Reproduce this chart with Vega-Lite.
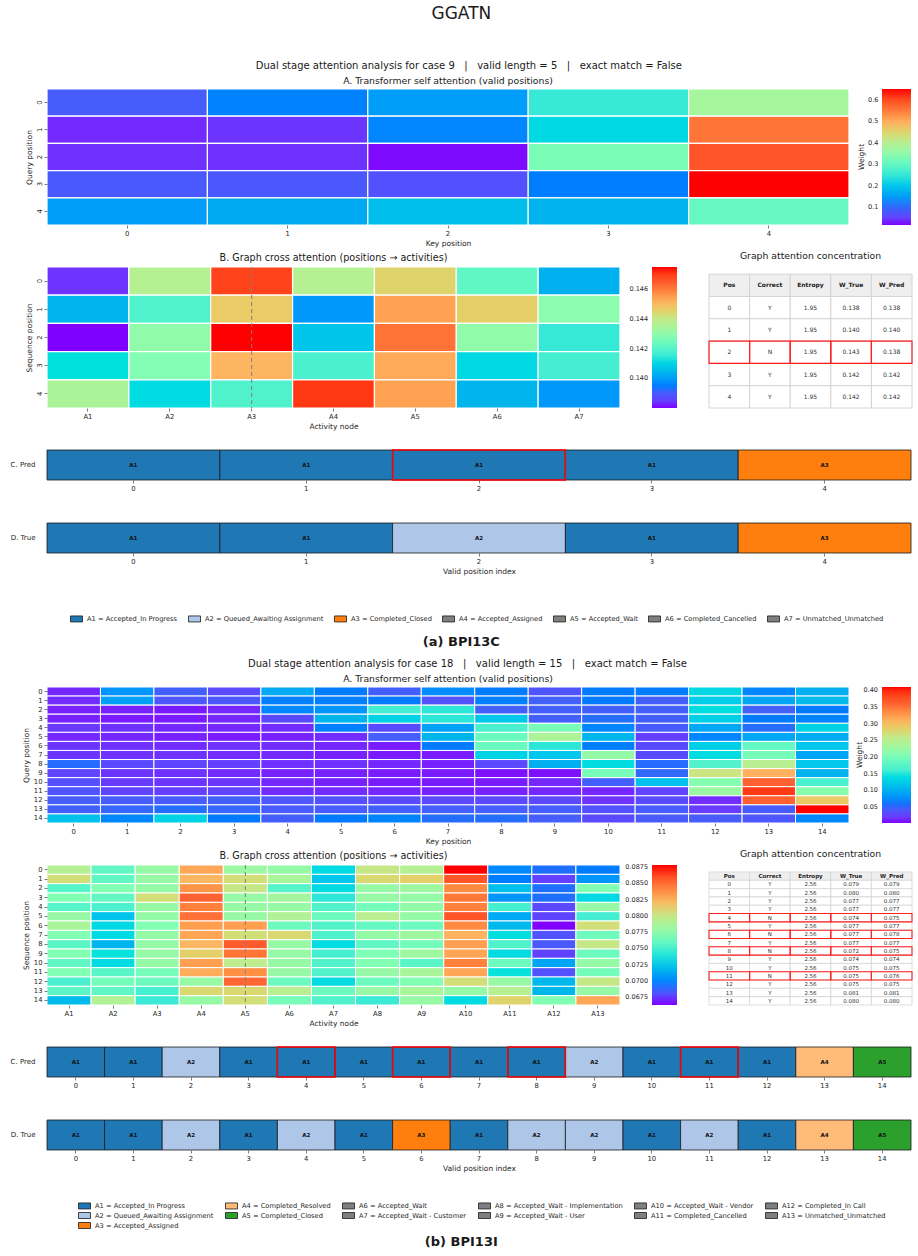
{
"$schema":"https://vega.github.io/schema/vega-lite/v6.json",
"background":"white",
"padding":{"left":10,"top":5,"right":5,"bottom":5},
"title":{"text":"GGATN","fontSize":17,"fontWeight":"normal","anchor":"middle","offset":38},
"config":{
 "font":"DejaVu Sans",
 "view":{"stroke":null},
 "axis":{"labelFontSize":6.8,"titleFontSize":7.5,"titleFontWeight":"normal","tickSize":3,"domain":false,"grid":false,"labelColor":"#262626","titleColor":"#262626","tickColor":"#262626","tickWidth":0.6,"labelPadding":2,"titlePadding":3},
 "legend":{"labelFontSize":6.7,"labelColor":"#262626","titleFontWeight":"normal","titleColor":"#262626"},
 "title":{"fontWeight":"normal","color":"#1a1a1a","subtitleColor":"#1a1a1a"}
},
"spacing":10,
"resolve":{"scale":{"color":"independent","fill":"independent","x":"independent","y":"independent"},"legend":{"color":"independent","fill":"independent"}},
"vconcat":[
{
 "title":{"text":"(a) BPI13C","orient":"bottom","fontSize":13,"fontWeight":"bold","anchor":"middle","offset":12},
 "spacing":18,
 "resolve":{"scale":{"color":"independent","fill":"independent","x":"independent","y":"independent"},"legend":{"color":"independent","fill":"independent"}},
 "vconcat":[
 {
  "title":{"text":"Dual stage attention analysis for case 9\u00a0\u00a0\u00a0|\u00a0\u00a0\u00a0valid length = 5\u00a0\u00a0\u00a0|\u00a0\u00a0\u00a0exact match = False","fontSize":10,"anchor":"middle","offset":6},
  "spacing":3,
  "resolve":{"scale":{"color":"independent","fill":"independent","x":"independent","y":"independent"},"legend":{"color":"independent","fill":"independent"}},
  "vconcat":[
  {
   "width":802,"height":136,
   "title":{"text":"A. Transformer self attention (valid positions)","fontSize":9.3,"frame":"group","anchor":"middle","offset":2},
   "data":{"values":[
    {"q":0,"k":0,"w":0.086},{"q":0,"k":1,"w":0.121},{"q":0,"k":2,"w":0.149},{"q":0,"k":3,"w":0.251},{"q":0,"k":4,"w":0.375},
    {"q":1,"k":0,"w":0.030},{"q":1,"k":1,"w":0.038},{"q":1,"k":2,"w":0.125},{"q":1,"k":3,"w":0.225},{"q":1,"k":4,"w":0.556},
    {"q":2,"k":0,"w":0.035},{"q":2,"k":1,"w":0.035},{"q":2,"k":2,"w":0.018},{"q":2,"k":3,"w":0.327},{"q":2,"k":4,"w":0.590},
    {"q":3,"k":0,"w":0.080},{"q":3,"k":1,"w":0.078},{"q":3,"k":2,"w":0.068},{"q":3,"k":3,"w":0.115},{"q":3,"k":4,"w":0.651},
    {"q":4,"k":0,"w":0.149},{"q":4,"k":1,"w":0.162},{"q":4,"k":2,"w":0.187},{"q":4,"k":3,"w":0.172},{"q":4,"k":4,"w":0.302}
   ]},
   "mark":{"type":"rect","stroke":"white","strokeWidth":1.2},
   "encoding":{
    "x":{"field":"k","type":"ordinal","title":"Key position","scale":{"paddingInner":0,"paddingOuter":0},"axis":{"labelAngle":0}},
    "y":{"field":"q","type":"ordinal","title":"Query position","scale":{"paddingInner":0,"paddingOuter":0},"axis":{"labelAngle":-90}},
    "color":{"field":"w","type":"quantitative","scale":{"domain":[0.016,0.651],"range":["#8000ff","#4062fa","#00b4ec","#40ecd4","#80ffb4","#bfec8e","#ffb462","#ff6232","#ff0000"]},
     "legend":{"orient":"none","legendX":811,"legendY":0,"direction":"vertical","gradientLength":136,"gradientThickness":29,"title":"Weight","titleOrient":"left","titleAnchor":"middle","titleFontSize":7.5,"titlePadding":16,"labelOffset":-43,"labelFontSize":6.5,"values":[0.1,0.2,0.3,0.4,0.5,0.6],"format":".1f","gradientStrokeWidth":0,"labelOverlap":false}}
   }
  },
  {
   "spacing":31,
   "resolve":{"scale":{"color":"independent","fill":"independent","x":"independent","y":"independent"},"legend":{"color":"independent","fill":"independent"}},
   "hconcat":[
   {
    "width":573,"height":141,
    "title":{"text":"B. Graph cross attention (positions \u2192 activities)","fontSize":9.6,"frame":"group","anchor":"middle","offset":4},
    "layer":[
    {
     "data":{"values":[
      {"s":0,"a":"A1","w":0.1383},{"s":0,"a":"A2","w":0.1437},{"s":0,"a":"A3","w":0.1469},{"s":0,"a":"A4","w":0.1437},{"s":0,"a":"A5","w":0.1445},{"s":0,"a":"A6","w":0.1422},{"s":0,"a":"A7","w":0.1403},
      {"s":1,"a":"A1","w":0.1404},{"s":1,"a":"A2","w":0.1419},{"s":1,"a":"A3","w":0.1447},{"s":1,"a":"A4","w":0.1399},{"s":1,"a":"A5","w":0.1454},{"s":1,"a":"A6","w":0.1446},{"s":1,"a":"A7","w":0.1429},
      {"s":2,"a":"A1","w":0.1380},{"s":2,"a":"A2","w":0.1430},{"s":2,"a":"A3","w":0.1475},{"s":2,"a":"A4","w":0.1407},{"s":2,"a":"A5","w":0.1461},{"s":2,"a":"A6","w":0.1430},{"s":2,"a":"A7","w":0.1415},
      {"s":3,"a":"A1","w":0.1413},{"s":3,"a":"A2","w":0.1428},{"s":3,"a":"A3","w":0.1451},{"s":3,"a":"A4","w":0.1418},{"s":3,"a":"A5","w":0.1453},{"s":3,"a":"A6","w":0.1411},{"s":3,"a":"A7","w":0.1417},
      {"s":4,"a":"A1","w":0.1435},{"s":4,"a":"A2","w":0.1412},{"s":4,"a":"A3","w":0.1419},{"s":4,"a":"A4","w":0.1471},{"s":4,"a":"A5","w":0.1454},{"s":4,"a":"A6","w":0.1404},{"s":4,"a":"A7","w":0.1399}
     ]},
     "mark":{"type":"rect","stroke":"white","strokeWidth":1.2},
     "encoding":{
      "x":{"field":"a","type":"nominal","title":"Activity node","scale":{"paddingInner":0,"paddingOuter":0},"axis":{"labelAngle":0}},
      "y":{"field":"s","type":"ordinal","title":"Sequence position","scale":{"paddingInner":0,"paddingOuter":0},"axis":{"labelAngle":-90}},
      "color":{"field":"w","type":"quantitative","scale":{"domain":[0.138,0.1475],"range":["#8000ff","#4062fa","#00b4ec","#40ecd4","#80ffb4","#bfec8e","#ffb462","#ff6232","#ff0000"]},
       "legend":{"orient":"none","legendX":605,"legendY":0,"direction":"vertical","gradientLength":141,"gradientThickness":25,"title":null,"labelOffset":-47.5,"labelFontSize":6.5,"values":[0.14,0.142,0.144,0.146],"format":".3f","gradientStrokeWidth":0,"labelOverlap":false}}
     }
    },
    {
     "data":{"values":[{"a":"A3"}]},
     "mark":{"type":"rule","color":"#808080","strokeWidth":1,"strokeDash":[4,3]},
     "encoding":{"x":{"field":"a","type":"nominal"}}
    }
    ]
   },
   {
    "width":203,"height":141,
    "title":{"text":"Graph attention concentration","fontSize":9.3,"frame":"group","anchor":"middle","offset":6},
    "data":{"values":[
     {"r":"h","Pos":"Pos","Correct":"Correct","Entropy":"Entropy","W_True":"W_True","W_Pred":"W_Pred"},
     {"r":"0","Pos":"0","Correct":"Y","Entropy":"1.95","W_True":"0.138","W_Pred":"0.138"},
     {"r":"1","Pos":"1","Correct":"Y","Entropy":"1.95","W_True":"0.140","W_Pred":"0.140"},
     {"r":"2","Pos":"2","Correct":"N","Entropy":"1.95","W_True":"0.143","W_Pred":"0.138"},
     {"r":"3","Pos":"3","Correct":"Y","Entropy":"1.95","W_True":"0.142","W_Pred":"0.142"},
     {"r":"4","Pos":"4","Correct":"Y","Entropy":"1.95","W_True":"0.142","W_Pred":"0.142"}
    ]},
    "transform":[{"fold":["Pos","Correct","Entropy","W_True","W_Pred"],"as":["col","txt"]}],
    "encoding":{
     "x":{"field":"col","type":"nominal","sort":["Pos","Correct","Entropy","W_True","W_Pred"],"axis":null,"scale":{"paddingInner":0,"paddingOuter":0}},
     "y":{"field":"r","type":"nominal","sort":["h","0","1","2","3","4"],"axis":null,"scale":{"paddingInner":0,"paddingOuter":0.16,"align":1}}
    },
    "layer":[
     {"mark":{"type":"rect","stroke":"#d4d4d4","strokeWidth":1},"encoding":{"fill":{"condition":{"test":"datum.r === 'h'","value":"#efefef"},"value":"#ffffff"}}},
     {"transform":[{"filter":"datum.Correct === 'N'"}],"mark":{"type":"rect","filled":false,"color":"#ff2020","strokeWidth":1.2}},
     {"transform":[{"filter":"datum.r !== 'h'"}],"mark":{"type":"text","fontSize":6,"color":"#333333"},"encoding":{"text":{"field":"txt"}}},
     {"transform":[{"filter":"datum.r === 'h'"}],"mark":{"type":"text","fontSize":6,"fontWeight":"bold","color":"#222222"},"encoding":{"text":{"field":"txt"}}}
    ]
   }
   ]
  }
  ]
 },
 {
  "spacing":30,
  "resolve":{"scale":{"color":"independent","fill":"independent","x":"independent","y":"independent"},"legend":{"color":"independent","fill":"independent"}},
  "vconcat":[
  {
   "width":864,"height":30,
   "data":{"values":[
    {"i":0,"s":"C. Pred","a":"A1","lab":"A1 = Accepted_In Progress","ok":"Y"},
    {"i":1,"s":"C. Pred","a":"A1","lab":"A1 = Accepted_In Progress","ok":"Y"},
    {"i":2,"s":"C. Pred","a":"A1","lab":"A1 = Accepted_In Progress","ok":"N"},
    {"i":3,"s":"C. Pred","a":"A1","lab":"A1 = Accepted_In Progress","ok":"Y"},
    {"i":4,"s":"C. Pred","a":"A3","lab":"A3 = Completed_Closed","ok":"Y"}
   ]},
   "encoding":{
    "x":{"field":"i","type":"ordinal","title":null,"scale":{"paddingInner":0,"paddingOuter":0},"axis":{"labelAngle":0}},
    "y":{"field":"s","type":"nominal","title":null,"scale":{"paddingInner":0,"paddingOuter":0},"axis":{"ticks":false,"labelPadding":12,"labelFontSize":7}}
   },
   "layer":[
    {"mark":{"type":"rect","stroke":"#1a1a1a","strokeWidth":0.8},"encoding":{"fill":{"field":"lab","type":"nominal","scale":{"domain":["A1 = Accepted_In Progress","A2 = Queued_Awaiting Assignment","A3 = Completed_Closed","A4 = Accepted_Assigned","A5 = Accepted_Wait","A6 = Completed_Cancelled","A7 = Unmatched_Unmatched"],"range":["#1f77b4","#aec7e8","#ff7f0e","#7f7f7f","#7f7f7f","#7f7f7f","#7f7f7f"]},"legend":null}}},
    {"transform":[{"filter":"datum.ok === 'N'"}],"mark":{"type":"rect","filled":false,"color":"#ff0000","strokeWidth":1.5}},
    {"mark":{"type":"text","fontSize":5.5,"fontWeight":"bold","color":"#111111"},"encoding":{"text":{"field":"a"}}}
   ]
  },
  {
   "width":864,"height":30,
   "data":{"values":[
    {"i":0,"s":"D. True","a":"A1","lab":"A1 = Accepted_In Progress"},
    {"i":1,"s":"D. True","a":"A1","lab":"A1 = Accepted_In Progress"},
    {"i":2,"s":"D. True","a":"A2","lab":"A2 = Queued_Awaiting Assignment"},
    {"i":3,"s":"D. True","a":"A1","lab":"A1 = Accepted_In Progress"},
    {"i":4,"s":"D. True","a":"A3","lab":"A3 = Completed_Closed"}
   ]},
   "encoding":{
    "x":{"field":"i","type":"ordinal","title":"Valid position index","scale":{"paddingInner":0,"paddingOuter":0},"axis":{"labelAngle":0}},
    "y":{"field":"s","type":"nominal","title":null,"scale":{"paddingInner":0,"paddingOuter":0},"axis":{"ticks":false,"labelPadding":12,"labelFontSize":7}}
   },
   "layer":[
    {"mark":{"type":"rect","stroke":"#1a1a1a","strokeWidth":0.8},"encoding":{"fill":{"field":"lab","type":"nominal","scale":{"domain":["A1 = Accepted_In Progress","A2 = Queued_Awaiting Assignment","A3 = Completed_Closed","A4 = Accepted_Assigned","A5 = Accepted_Wait","A6 = Completed_Cancelled","A7 = Unmatched_Unmatched"],"range":["#1f77b4","#aec7e8","#ff7f0e","#7f7f7f","#7f7f7f","#7f7f7f","#7f7f7f"]},
     "legend":{"orient":"none","legendX":26,"legendY":92,"direction":"horizontal","columns":7,"title":null,"symbolType":"M-2,-1H2V1H-2Z","symbolSize":36,"symbolStrokeColor":"#1a1a1a","symbolStrokeWidth":0.8,"labelFontSize":6.7,"columnPadding":8,"labelOffset":7}}}},
    {"mark":{"type":"text","fontSize":5.5,"fontWeight":"bold","color":"#111111"},"encoding":{"text":{"field":"a"}}}
   ]
  }
  ]
 }
 ]
},
{
 "title":{"text":"(b) BPI13I","orient":"bottom","fontSize":13,"fontWeight":"bold","anchor":"middle","offset":5},
 "spacing":18,
 "resolve":{"scale":{"color":"independent","fill":"independent","x":"independent","y":"independent"},"legend":{"color":"independent","fill":"independent"}},
 "vconcat":[
 {
  "title":{"text":"Dual stage attention analysis for case 18\u00a0\u00a0\u00a0|\u00a0\u00a0\u00a0valid length = 15\u00a0\u00a0\u00a0|\u00a0\u00a0\u00a0exact match = False","fontSize":10,"anchor":"middle","offset":6},
  "spacing":3,
  "resolve":{"scale":{"color":"independent","fill":"independent","x":"independent","y":"independent"},"legend":{"color":"independent","fill":"independent"}},
  "vconcat":[
  {
   "width":802,"height":136,
   "title":{"text":"A. Transformer self attention (valid positions)","fontSize":9.3,"frame":"group","anchor":"middle","offset":2},
   "data":{"values":[
{"q":0,"k":0,"w":0.010},{"q":0,"k":1,"w":0.080},{"q":0,"k":2,"w":0.050},{"q":0,"k":3,"w":0.030},{"q":0,"k":4,"w":0.095},{"q":0,"k":5,"w":0.065},{"q":0,"k":6,"w":0.050},{"q":0,"k":7,"w":0.075},{"q":0,"k":8,"w":0.065},{"q":0,"k":9,"w":0.038},{"q":0,"k":10,"w":0.065},{"q":0,"k":11,"w":0.065},{"q":0,"k":12,"w":0.135},{"q":0,"k":13,"w":0.072},{"q":0,"k":14,"w":0.100},
{"q":1,"k":0,"w":0.012},{"q":1,"k":1,"w":0.088},{"q":1,"k":2,"w":0.040},{"q":1,"k":3,"w":0.042},{"q":1,"k":4,"w":0.068},{"q":1,"k":5,"w":0.068},{"q":1,"k":6,"w":0.065},{"q":1,"k":7,"w":0.036},{"q":1,"k":8,"w":0.068},{"q":1,"k":9,"w":0.052},{"q":1,"k":10,"w":0.065},{"q":1,"k":11,"w":0.050},{"q":1,"k":12,"w":0.125},{"q":1,"k":13,"w":0.092},{"q":1,"k":14,"w":0.110},
{"q":2,"k":0,"w":0.008},{"q":2,"k":1,"w":0.008},{"q":2,"k":2,"w":0.006},{"q":2,"k":3,"w":0.010},{"q":2,"k":4,"w":0.072},{"q":2,"k":5,"w":0.080},{"q":2,"k":6,"w":0.160},{"q":2,"k":7,"w":0.150},{"q":2,"k":8,"w":0.052},{"q":2,"k":9,"w":0.050},{"q":2,"k":10,"w":0.050},{"q":2,"k":11,"w":0.052},{"q":2,"k":12,"w":0.140},{"q":2,"k":13,"w":0.052},{"q":2,"k":14,"w":0.065},
{"q":3,"k":0,"w":0.008},{"q":3,"k":1,"w":0.006},{"q":3,"k":2,"w":0.006},{"q":3,"k":3,"w":0.010},{"q":3,"k":4,"w":0.030},{"q":3,"k":5,"w":0.105},{"q":3,"k":6,"w":0.130},{"q":3,"k":7,"w":0.150},{"q":3,"k":8,"w":0.120},{"q":3,"k":9,"w":0.050},{"q":3,"k":10,"w":0.058},{"q":3,"k":11,"w":0.050},{"q":3,"k":12,"w":0.128},{"q":3,"k":13,"w":0.065},{"q":3,"k":14,"w":0.070},
{"q":4,"k":0,"w":0.018},{"q":4,"k":1,"w":0.014},{"q":4,"k":2,"w":0.010},{"q":4,"k":3,"w":0.010},{"q":4,"k":4,"w":0.012},{"q":4,"k":5,"w":0.068},{"q":4,"k":6,"w":0.030},{"q":4,"k":7,"w":0.090},{"q":4,"k":8,"w":0.165},{"q":4,"k":9,"w":0.200},{"q":4,"k":10,"w":0.072},{"q":4,"k":11,"w":0.045},{"q":4,"k":12,"w":0.094},{"q":4,"k":13,"w":0.058},{"q":4,"k":14,"w":0.130},
{"q":5,"k":0,"w":0.010},{"q":5,"k":1,"w":0.010},{"q":5,"k":2,"w":0.008},{"q":5,"k":3,"w":0.006},{"q":5,"k":4,"w":0.008},{"q":5,"k":5,"w":0.012},{"q":5,"k":6,"w":0.048},{"q":5,"k":7,"w":0.105},{"q":5,"k":8,"w":0.190},{"q":5,"k":9,"w":0.240},{"q":5,"k":10,"w":0.105},{"q":5,"k":11,"w":0.022},{"q":5,"k":12,"w":0.072},{"q":5,"k":13,"w":0.094},{"q":5,"k":14,"w":0.098},
{"q":6,"k":0,"w":0.016},{"q":6,"k":1,"w":0.014},{"q":6,"k":2,"w":0.012},{"q":6,"k":3,"w":0.014},{"q":6,"k":4,"w":0.012},{"q":6,"k":5,"w":0.010},{"q":6,"k":6,"w":0.006},{"q":6,"k":7,"w":0.065},{"q":6,"k":8,"w":0.190},{"q":6,"k":9,"w":0.150},{"q":6,"k":10,"w":0.068},{"q":6,"k":11,"w":0.030},{"q":6,"k":12,"w":0.128},{"q":6,"k":13,"w":0.185},{"q":6,"k":14,"w":0.120},
{"q":7,"k":0,"w":0.016},{"q":7,"k":1,"w":0.014},{"q":7,"k":2,"w":0.014},{"q":7,"k":3,"w":0.012},{"q":7,"k":4,"w":0.010},{"q":7,"k":5,"w":0.008},{"q":7,"k":6,"w":0.006},{"q":7,"k":7,"w":0.006},{"q":7,"k":8,"w":0.130},{"q":7,"k":9,"w":0.120},{"q":7,"k":10,"w":0.220},{"q":7,"k":11,"w":0.030},{"q":7,"k":12,"w":0.140},{"q":7,"k":13,"w":0.200},{"q":7,"k":14,"w":0.093},
{"q":8,"k":0,"w":0.058},{"q":8,"k":1,"w":0.030},{"q":8,"k":2,"w":0.025},{"q":8,"k":3,"w":0.022},{"q":8,"k":4,"w":0.014},{"q":8,"k":5,"w":0.014},{"q":8,"k":6,"w":0.010},{"q":8,"k":7,"w":0.008},{"q":8,"k":8,"w":0.030},{"q":8,"k":9,"w":0.100},{"q":8,"k":10,"w":0.140},{"q":8,"k":11,"w":0.058},{"q":8,"k":12,"w":0.170},{"q":8,"k":13,"w":0.250},{"q":8,"k":14,"w":0.120},
{"q":9,"k":0,"w":0.025},{"q":9,"k":1,"w":0.016},{"q":9,"k":2,"w":0.014},{"q":9,"k":3,"w":0.012},{"q":9,"k":4,"w":0.008},{"q":9,"k":5,"w":0.008},{"q":9,"k":6,"w":0.006},{"q":9,"k":7,"w":0.006},{"q":9,"k":8,"w":0.004},{"q":9,"k":9,"w":0.004},{"q":9,"k":10,"w":0.200},{"q":9,"k":11,"w":0.056},{"q":9,"k":12,"w":0.265},{"q":9,"k":13,"w":0.310},{"q":9,"k":14,"w":0.102},
{"q":10,"k":0,"w":0.034},{"q":10,"k":1,"w":0.020},{"q":10,"k":2,"w":0.016},{"q":10,"k":3,"w":0.016},{"q":10,"k":4,"w":0.010},{"q":10,"k":5,"w":0.008},{"q":10,"k":6,"w":0.006},{"q":10,"k":7,"w":0.006},{"q":10,"k":8,"w":0.006},{"q":10,"k":9,"w":0.010},{"q":10,"k":10,"w":0.050},{"q":10,"k":11,"w":0.115},{"q":10,"k":12,"w":0.210},{"q":10,"k":13,"w":0.360},{"q":10,"k":14,"w":0.165},
{"q":11,"k":0,"w":0.038},{"q":11,"k":1,"w":0.025},{"q":11,"k":2,"w":0.022},{"q":11,"k":3,"w":0.025},{"q":11,"k":4,"w":0.012},{"q":11,"k":5,"w":0.012},{"q":11,"k":6,"w":0.010},{"q":11,"k":7,"w":0.008},{"q":11,"k":8,"w":0.008},{"q":11,"k":9,"w":0.010},{"q":11,"k":10,"w":0.010},{"q":11,"k":11,"w":0.025},{"q":11,"k":12,"w":0.225},{"q":11,"k":13,"w":0.390},{"q":11,"k":14,"w":0.212},
{"q":12,"k":0,"w":0.048},{"q":12,"k":1,"w":0.045},{"q":12,"k":2,"w":0.045},{"q":12,"k":3,"w":0.050},{"q":12,"k":4,"w":0.040},{"q":12,"k":5,"w":0.035},{"q":12,"k":6,"w":0.030},{"q":12,"k":7,"w":0.028},{"q":12,"k":8,"w":0.028},{"q":12,"k":9,"w":0.028},{"q":12,"k":10,"w":0.015},{"q":12,"k":11,"w":0.030},{"q":12,"k":12,"w":0.012},{"q":12,"k":13,"w":0.360},{"q":12,"k":14,"w":0.290},
{"q":13,"k":0,"w":0.050},{"q":13,"k":1,"w":0.055},{"q":13,"k":2,"w":0.058},{"q":13,"k":3,"w":0.055},{"q":13,"k":4,"w":0.045},{"q":13,"k":5,"w":0.045},{"q":13,"k":6,"w":0.050},{"q":13,"k":7,"w":0.048},{"q":13,"k":8,"w":0.048},{"q":13,"k":9,"w":0.046},{"q":13,"k":10,"w":0.035},{"q":13,"k":11,"w":0.045},{"q":13,"k":12,"w":0.020},{"q":13,"k":13,"w":0.045},{"q":13,"k":14,"w":0.410},
{"q":14,"k":0,"w":0.115},{"q":14,"k":1,"w":0.072},{"q":14,"k":2,"w":0.130},{"q":14,"k":3,"w":0.065},{"q":14,"k":4,"w":0.050},{"q":14,"k":5,"w":0.065},{"q":14,"k":6,"w":0.070},{"q":14,"k":7,"w":0.058},{"q":14,"k":8,"w":0.058},{"q":14,"k":9,"w":0.048},{"q":14,"k":10,"w":0.030},{"q":14,"k":11,"w":0.045},{"q":14,"k":12,"w":0.045},{"q":14,"k":13,"w":0.040},{"q":14,"k":14,"w":0.072}
   ]},
   "mark":{"type":"rect","stroke":"white","strokeWidth":1},
   "encoding":{
    "x":{"field":"k","type":"ordinal","title":"Key position","scale":{"paddingInner":0,"paddingOuter":0},"axis":{"labelAngle":0}},
    "y":{"field":"q","type":"ordinal","title":"Query position","scale":{"paddingInner":0,"paddingOuter":0},"axis":{"labelAngle":0}},
    "color":{"field":"w","type":"quantitative","scale":{"domain":[0.002,0.41],"range":["#8000ff","#4062fa","#00b4ec","#40ecd4","#80ffb4","#bfec8e","#ffb462","#ff6232","#ff0000"]},
     "legend":{"orient":"none","legendX":809,"legendY":0,"direction":"vertical","gradientLength":136,"gradientThickness":29,"title":"Weight","titleOrient":"left","titleAnchor":"middle","titleFontSize":7.5,"titlePadding":18,"labelOffset":-47.5,"labelFontSize":6.5,"values":[0.05,0.1,0.15,0.2,0.25,0.3,0.35,0.4],"format":".2f","gradientStrokeWidth":0,"labelOverlap":false}}
   }
  },
  {
   "spacing":31,
   "resolve":{"scale":{"color":"independent","fill":"independent","x":"independent","y":"independent"},"legend":{"color":"independent","fill":"independent"}},
   "hconcat":[
   {
    "width":573,"height":140,
    "title":{"text":"B. Graph cross attention (positions \u2192 activities)","fontSize":9.6,"frame":"group","anchor":"middle","offset":4},
    "layer":[
    {
     "data":{"values":[
{"s":0,"a":"A1","w":0.0792},{"s":0,"a":"A2","w":0.0758},{"s":0,"a":"A3","w":0.0779},{"s":0,"a":"A4","w":0.0829},{"s":0,"a":"A5","w":0.0781},{"s":0,"a":"A6","w":0.0778},{"s":0,"a":"A7","w":0.0734},{"s":0,"a":"A8","w":0.0800},{"s":0,"a":"A9","w":0.0792},{"s":0,"a":"A10","w":0.0878},{"s":0,"a":"A11","w":0.0701},{"s":0,"a":"A12","w":0.0693},{"s":0,"a":"A13","w":0.0697},
{"s":1,"a":"A1","w":0.0805},{"s":1,"a":"A2","w":0.0758},{"s":1,"a":"A3","w":0.0779},{"s":1,"a":"A4","w":0.0823},{"s":1,"a":"A5","w":0.0805},{"s":1,"a":"A6","w":0.0786},{"s":1,"a":"A7","w":0.0725},{"s":1,"a":"A8","w":0.0808},{"s":1,"a":"A9","w":0.0812},{"s":1,"a":"A10","w":0.0857},{"s":1,"a":"A11","w":0.0697},{"s":1,"a":"A12","w":0.0674},{"s":1,"a":"A13","w":0.0705},
{"s":2,"a":"A1","w":0.0754},{"s":2,"a":"A2","w":0.0771},{"s":2,"a":"A3","w":0.0778},{"s":2,"a":"A4","w":0.0836},{"s":2,"a":"A5","w":0.0800},{"s":2,"a":"A6","w":0.0754},{"s":2,"a":"A7","w":0.0734},{"s":2,"a":"A8","w":0.0779},{"s":2,"a":"A9","w":0.0782},{"s":2,"a":"A10","w":0.0839},{"s":2,"a":"A11","w":0.0722},{"s":2,"a":"A12","w":0.0693},{"s":2,"a":"A13","w":0.0771},
{"s":3,"a":"A1","w":0.0771},{"s":3,"a":"A2","w":0.0759},{"s":3,"a":"A3","w":0.0805},{"s":3,"a":"A4","w":0.0851},{"s":3,"a":"A5","w":0.0779},{"s":3,"a":"A6","w":0.0784},{"s":3,"a":"A7","w":0.0741},{"s":3,"a":"A8","w":0.0779},{"s":3,"a":"A9","w":0.0778},{"s":3,"a":"A10","w":0.0845},{"s":3,"a":"A11","w":0.0705},{"s":3,"a":"A12","w":0.0693},{"s":3,"a":"A13","w":0.0733},
{"s":4,"a":"A1","w":0.0754},{"s":4,"a":"A2","w":0.0750},{"s":4,"a":"A3","w":0.0779},{"s":4,"a":"A4","w":0.0842},{"s":4,"a":"A5","w":0.0779},{"s":4,"a":"A6","w":0.0779},{"s":4,"a":"A7","w":0.0751},{"s":4,"a":"A8","w":0.0766},{"s":4,"a":"A9","w":0.0777},{"s":4,"a":"A10","w":0.0842},{"s":4,"a":"A11","w":0.0747},{"s":4,"a":"A12","w":0.0677},{"s":4,"a":"A13","w":0.0779},
{"s":5,"a":"A1","w":0.0779},{"s":5,"a":"A2","w":0.0724},{"s":5,"a":"A3","w":0.0778},{"s":5,"a":"A4","w":0.0847},{"s":5,"a":"A5","w":0.0779},{"s":5,"a":"A6","w":0.0790},{"s":5,"a":"A7","w":0.0763},{"s":5,"a":"A8","w":0.0794},{"s":5,"a":"A9","w":0.0778},{"s":5,"a":"A10","w":0.0858},{"s":5,"a":"A11","w":0.0712},{"s":5,"a":"A12","w":0.0675},{"s":5,"a":"A13","w":0.0746},
{"s":6,"a":"A1","w":0.0786},{"s":6,"a":"A2","w":0.0733},{"s":6,"a":"A3","w":0.0771},{"s":6,"a":"A4","w":0.0832},{"s":6,"a":"A5","w":0.0832},{"s":6,"a":"A6","w":0.0763},{"s":6,"a":"A7","w":0.0752},{"s":6,"a":"A8","w":0.0760},{"s":6,"a":"A9","w":0.0763},{"s":6,"a":"A10","w":0.0839},{"s":6,"a":"A11","w":0.0719},{"s":6,"a":"A12","w":0.0663},{"s":6,"a":"A13","w":0.0805},
{"s":7,"a":"A1","w":0.0771},{"s":7,"a":"A2","w":0.0734},{"s":7,"a":"A3","w":0.0778},{"s":7,"a":"A4","w":0.0830},{"s":7,"a":"A5","w":0.0805},{"s":7,"a":"A6","w":0.0808},{"s":7,"a":"A7","w":0.0751},{"s":7,"a":"A8","w":0.0778},{"s":7,"a":"A9","w":0.0782},{"s":7,"a":"A10","w":0.0825},{"s":7,"a":"A11","w":0.0736},{"s":7,"a":"A12","w":0.0681},{"s":7,"a":"A13","w":0.0764},
{"s":8,"a":"A1","w":0.0756},{"s":8,"a":"A2","w":0.0717},{"s":8,"a":"A3","w":0.0778},{"s":8,"a":"A4","w":0.0823},{"s":8,"a":"A5","w":0.0855},{"s":8,"a":"A6","w":0.0779},{"s":8,"a":"A7","w":0.0735},{"s":8,"a":"A8","w":0.0758},{"s":8,"a":"A9","w":0.0766},{"s":8,"a":"A10","w":0.0832},{"s":8,"a":"A11","w":0.0751},{"s":8,"a":"A12","w":0.0685},{"s":8,"a":"A13","w":0.0800},
{"s":9,"a":"A1","w":0.0771},{"s":9,"a":"A2","w":0.0738},{"s":9,"a":"A3","w":0.0779},{"s":9,"a":"A4","w":0.0812},{"s":9,"a":"A5","w":0.0846},{"s":9,"a":"A6","w":0.0779},{"s":9,"a":"A7","w":0.0747},{"s":9,"a":"A8","w":0.0770},{"s":9,"a":"A9","w":0.0782},{"s":9,"a":"A10","w":0.0830},{"s":9,"a":"A11","w":0.0734},{"s":9,"a":"A12","w":0.0675},{"s":9,"a":"A13","w":0.0763},
{"s":10,"a":"A1","w":0.0758},{"s":10,"a":"A2","w":0.0735},{"s":10,"a":"A3","w":0.0778},{"s":10,"a":"A4","w":0.0832},{"s":10,"a":"A5","w":0.0797},{"s":10,"a":"A6","w":0.0779},{"s":10,"a":"A7","w":0.0752},{"s":10,"a":"A8","w":0.0771},{"s":10,"a":"A9","w":0.0755},{"s":10,"a":"A10","w":0.0842},{"s":10,"a":"A11","w":0.0763},{"s":10,"a":"A12","w":0.0711},{"s":10,"a":"A13","w":0.0778},
{"s":11,"a":"A1","w":0.0771},{"s":11,"a":"A2","w":0.0755},{"s":11,"a":"A3","w":0.0767},{"s":11,"a":"A4","w":0.0827},{"s":11,"a":"A5","w":0.0837},{"s":11,"a":"A6","w":0.0779},{"s":11,"a":"A7","w":0.0752},{"s":11,"a":"A8","w":0.0779},{"s":11,"a":"A9","w":0.0786},{"s":11,"a":"A10","w":0.0829},{"s":11,"a":"A11","w":0.0738},{"s":11,"a":"A12","w":0.0681},{"s":11,"a":"A13","w":0.0766},
{"s":12,"a":"A1","w":0.0748},{"s":12,"a":"A2","w":0.0766},{"s":12,"a":"A3","w":0.0763},{"s":12,"a":"A4","w":0.0779},{"s":12,"a":"A5","w":0.0850},{"s":12,"a":"A6","w":0.0763},{"s":12,"a":"A7","w":0.0735},{"s":12,"a":"A8","w":0.0763},{"s":12,"a":"A9","w":0.0771},{"s":12,"a":"A10","w":0.0805},{"s":12,"a":"A11","w":0.0779},{"s":12,"a":"A12","w":0.0719},{"s":12,"a":"A13","w":0.0800},
{"s":13,"a":"A1","w":0.0756},{"s":13,"a":"A2","w":0.0758},{"s":13,"a":"A3","w":0.0747},{"s":13,"a":"A4","w":0.0808},{"s":13,"a":"A5","w":0.0808},{"s":13,"a":"A6","w":0.0794},{"s":13,"a":"A7","w":0.0763},{"s":13,"a":"A8","w":0.0779},{"s":13,"a":"A9","w":0.0786},{"s":13,"a":"A10","w":0.0778},{"s":13,"a":"A11","w":0.0792},{"s":13,"a":"A12","w":0.0718},{"s":13,"a":"A13","w":0.0779},
{"s":14,"a":"A1","w":0.0720},{"s":14,"a":"A2","w":0.0790},{"s":14,"a":"A3","w":0.0743},{"s":14,"a":"A4","w":0.0779},{"s":14,"a":"A5","w":0.0805},{"s":14,"a":"A6","w":0.0767},{"s":14,"a":"A7","w":0.0751},{"s":14,"a":"A8","w":0.0743},{"s":14,"a":"A9","w":0.0779},{"s":14,"a":"A10","w":0.0735},{"s":14,"a":"A11","w":0.0810},{"s":14,"a":"A12","w":0.0771},{"s":14,"a":"A13","w":0.0829}
     ]},
     "mark":{"type":"rect","stroke":"white","strokeWidth":1},
     "encoding":{
      "x":{"field":"a","type":"nominal","title":"Activity node","sort":["A1","A2","A3","A4","A5","A6","A7","A8","A9","A10","A11","A12","A13"],"scale":{"paddingInner":0,"paddingOuter":0},"axis":{"labelAngle":0}},
      "y":{"field":"s","type":"ordinal","title":"Sequence position","scale":{"paddingInner":0,"paddingOuter":0},"axis":{"labelAngle":0}},
      "color":{"field":"w","type":"quantitative","scale":{"domain":[0.0663,0.0878],"range":["#8000ff","#4062fa","#00b4ec","#40ecd4","#80ffb4","#bfec8e","#ffb462","#ff6232","#ff0000"]},
       "legend":{"orient":"none","legendX":605,"legendY":0,"direction":"vertical","gradientLength":140,"gradientThickness":25,"title":null,"labelOffset":-51.7,"labelFontSize":6.5,"values":[0.0675,0.07,0.0725,0.075,0.0775,0.08,0.0825,0.085,0.0875],"format":".4f","gradientStrokeWidth":0,"labelOverlap":false}}
     }
    },
    {
     "data":{"values":[{"a":"A5"}]},
     "mark":{"type":"rule","color":"#808080","strokeWidth":1,"strokeDash":[4,3]},
     "encoding":{"x":{"field":"a","type":"nominal","sort":["A1","A2","A3","A4","A5","A6","A7","A8","A9","A10","A11","A12","A13"]}}
    }
    ]
   },
   {
    "width":203,"height":140,
    "title":{"text":"Graph attention concentration","fontSize":9.3,"frame":"group","anchor":"middle","offset":6},
    "data":{"values":[
     {"r":"h","Pos":"Pos","Correct":"Correct","Entropy":"Entropy","W_True":"W_True","W_Pred":"W_Pred"},
     {"r":"0","Pos":"0","Correct":"Y","Entropy":"2.56","W_True":"0.079","W_Pred":"0.079"},
     {"r":"1","Pos":"1","Correct":"Y","Entropy":"2.56","W_True":"0.080","W_Pred":"0.080"},
     {"r":"2","Pos":"2","Correct":"Y","Entropy":"2.56","W_True":"0.077","W_Pred":"0.077"},
     {"r":"3","Pos":"3","Correct":"Y","Entropy":"2.56","W_True":"0.077","W_Pred":"0.077"},
     {"r":"4","Pos":"4","Correct":"N","Entropy":"2.56","W_True":"0.074","W_Pred":"0.075"},
     {"r":"5","Pos":"5","Correct":"Y","Entropy":"2.56","W_True":"0.077","W_Pred":"0.077"},
     {"r":"6","Pos":"6","Correct":"N","Entropy":"2.56","W_True":"0.077","W_Pred":"0.078"},
     {"r":"7","Pos":"7","Correct":"Y","Entropy":"2.56","W_True":"0.077","W_Pred":"0.077"},
     {"r":"8","Pos":"8","Correct":"N","Entropy":"2.56","W_True":"0.072","W_Pred":"0.075"},
     {"r":"9","Pos":"9","Correct":"Y","Entropy":"2.56","W_True":"0.074","W_Pred":"0.074"},
     {"r":"10","Pos":"10","Correct":"Y","Entropy":"2.56","W_True":"0.075","W_Pred":"0.075"},
     {"r":"11","Pos":"11","Correct":"N","Entropy":"2.56","W_True":"0.075","W_Pred":"0.076"},
     {"r":"12","Pos":"12","Correct":"Y","Entropy":"2.56","W_True":"0.075","W_Pred":"0.075"},
     {"r":"13","Pos":"13","Correct":"Y","Entropy":"2.56","W_True":"0.081","W_Pred":"0.081"},
     {"r":"14","Pos":"14","Correct":"Y","Entropy":"2.56","W_True":"0.080","W_Pred":"0.080"}
    ]},
    "transform":[{"fold":["Pos","Correct","Entropy","W_True","W_Pred"],"as":["col","txt"]}],
    "encoding":{
     "x":{"field":"col","type":"nominal","sort":["Pos","Correct","Entropy","W_True","W_Pred"],"axis":null,"scale":{"paddingInner":0,"paddingOuter":0}},
     "y":{"field":"r","type":"nominal","sort":["h","0","1","2","3","4","5","6","7","8","9","10","11","12","13","14"],"axis":null,"scale":{"paddingInner":0,"paddingOuter":0.42,"align":1}}
    },
    "layer":[
     {"mark":{"type":"rect","stroke":"#d4d4d4","strokeWidth":0.8},"encoding":{"fill":{"condition":{"test":"datum.r === 'h'","value":"#efefef"},"value":"#ffffff"}}},
     {"transform":[{"filter":"datum.Correct === 'N'"}],"mark":{"type":"rect","filled":false,"color":"#ff2020","strokeWidth":1.1}},
     {"transform":[{"filter":"datum.r !== 'h'"}],"mark":{"type":"text","fontSize":5.5,"color":"#333333"},"encoding":{"text":{"field":"txt"}}},
     {"transform":[{"filter":"datum.r === 'h'"}],"mark":{"type":"text","fontSize":5.5,"fontWeight":"bold","color":"#222222"},"encoding":{"text":{"field":"txt"}}}
    ]
   }
   ]
  }
  ]
 },
 {
  "spacing":30,
  "resolve":{"scale":{"color":"independent","fill":"independent","x":"independent","y":"independent"},"legend":{"color":"independent","fill":"independent"}},
  "vconcat":[
  {
   "width":864,"height":30,
   "data":{"values":[
    {"i":0,"s":"C. Pred","a":"A1","lab":"A1 = Accepted_In Progress","ok":"Y"},
    {"i":1,"s":"C. Pred","a":"A1","lab":"A1 = Accepted_In Progress","ok":"Y"},
    {"i":2,"s":"C. Pred","a":"A2","lab":"A2 = Queued_Awaiting Assignment","ok":"Y"},
    {"i":3,"s":"C. Pred","a":"A1","lab":"A1 = Accepted_In Progress","ok":"Y"},
    {"i":4,"s":"C. Pred","a":"A1","lab":"A1 = Accepted_In Progress","ok":"N"},
    {"i":5,"s":"C. Pred","a":"A1","lab":"A1 = Accepted_In Progress","ok":"Y"},
    {"i":6,"s":"C. Pred","a":"A1","lab":"A1 = Accepted_In Progress","ok":"N"},
    {"i":7,"s":"C. Pred","a":"A1","lab":"A1 = Accepted_In Progress","ok":"Y"},
    {"i":8,"s":"C. Pred","a":"A1","lab":"A1 = Accepted_In Progress","ok":"N"},
    {"i":9,"s":"C. Pred","a":"A2","lab":"A2 = Queued_Awaiting Assignment","ok":"Y"},
    {"i":10,"s":"C. Pred","a":"A1","lab":"A1 = Accepted_In Progress","ok":"Y"},
    {"i":11,"s":"C. Pred","a":"A1","lab":"A1 = Accepted_In Progress","ok":"N"},
    {"i":12,"s":"C. Pred","a":"A1","lab":"A1 = Accepted_In Progress","ok":"Y"},
    {"i":13,"s":"C. Pred","a":"A4","lab":"A4 = Completed_Resolved","ok":"Y"},
    {"i":14,"s":"C. Pred","a":"A5","lab":"A5 = Completed_Closed","ok":"Y"}
   ]},
   "encoding":{
    "x":{"field":"i","type":"ordinal","title":null,"scale":{"paddingInner":0,"paddingOuter":0},"axis":{"labelAngle":0}},
    "y":{"field":"s","type":"nominal","title":null,"scale":{"paddingInner":0,"paddingOuter":0},"axis":{"ticks":false,"labelPadding":12,"labelFontSize":7}}
   },
   "layer":[
    {"mark":{"type":"rect","stroke":"#1a1a1a","strokeWidth":0.8},"encoding":{"fill":{"field":"lab","type":"nominal","scale":{"domain":["A1 = Accepted_In Progress","A4 = Completed_Resolved","A6 = Accepted_Wait","A8 = Accepted_Wait - Implementation","A10 = Accepted_Wait - Vendor","A12 = Completed_In Call","A2 = Queued_Awaiting Assignment","A5 = Completed_Closed","A7 = Accepted_Wait - Customer","A9 = Accepted_Wait - User","A11 = Completed_Cancelled","A13 = Unmatched_Unmatched","A3 = Accepted_Assigned"],"range":["#1f77b4","#ffbb78","#7f7f7f","#7f7f7f","#7f7f7f","#7f7f7f","#aec7e8","#2ca02c","#7f7f7f","#7f7f7f","#7f7f7f","#7f7f7f","#ff7f0e"]},"legend":null}}},
    {"transform":[{"filter":"datum.ok === 'N'"}],"mark":{"type":"rect","filled":false,"color":"#ff0000","strokeWidth":1.5}},
    {"mark":{"type":"text","fontSize":5.5,"fontWeight":"bold","color":"#111111"},"encoding":{"text":{"field":"a"}}}
   ]
  },
  {
   "width":864,"height":30,
   "data":{"values":[
    {"i":0,"s":"D. True","a":"A1","lab":"A1 = Accepted_In Progress"},
    {"i":1,"s":"D. True","a":"A1","lab":"A1 = Accepted_In Progress"},
    {"i":2,"s":"D. True","a":"A2","lab":"A2 = Queued_Awaiting Assignment"},
    {"i":3,"s":"D. True","a":"A1","lab":"A1 = Accepted_In Progress"},
    {"i":4,"s":"D. True","a":"A2","lab":"A2 = Queued_Awaiting Assignment"},
    {"i":5,"s":"D. True","a":"A1","lab":"A1 = Accepted_In Progress"},
    {"i":6,"s":"D. True","a":"A3","lab":"A3 = Accepted_Assigned"},
    {"i":7,"s":"D. True","a":"A1","lab":"A1 = Accepted_In Progress"},
    {"i":8,"s":"D. True","a":"A2","lab":"A2 = Queued_Awaiting Assignment"},
    {"i":9,"s":"D. True","a":"A2","lab":"A2 = Queued_Awaiting Assignment"},
    {"i":10,"s":"D. True","a":"A1","lab":"A1 = Accepted_In Progress"},
    {"i":11,"s":"D. True","a":"A2","lab":"A2 = Queued_Awaiting Assignment"},
    {"i":12,"s":"D. True","a":"A1","lab":"A1 = Accepted_In Progress"},
    {"i":13,"s":"D. True","a":"A4","lab":"A4 = Completed_Resolved"},
    {"i":14,"s":"D. True","a":"A5","lab":"A5 = Completed_Closed"}
   ]},
   "encoding":{
    "x":{"field":"i","type":"ordinal","title":"Valid position index","scale":{"paddingInner":0,"paddingOuter":0},"axis":{"labelAngle":0}},
    "y":{"field":"s","type":"nominal","title":null,"scale":{"paddingInner":0,"paddingOuter":0},"axis":{"ticks":false,"labelPadding":12,"labelFontSize":7}}
   },
   "layer":[
    {"mark":{"type":"rect","stroke":"#1a1a1a","strokeWidth":0.8},"encoding":{"fill":{"field":"lab","type":"nominal","scale":{"domain":["A1 = Accepted_In Progress","A4 = Completed_Resolved","A6 = Accepted_Wait","A8 = Accepted_Wait - Implementation","A10 = Accepted_Wait - Vendor","A12 = Completed_In Call","A2 = Queued_Awaiting Assignment","A5 = Completed_Closed","A7 = Accepted_Wait - Customer","A9 = Accepted_Wait - User","A11 = Completed_Cancelled","A13 = Unmatched_Unmatched","A3 = Accepted_Assigned"],"range":["#1f77b4","#ffbb78","#7f7f7f","#7f7f7f","#7f7f7f","#7f7f7f","#aec7e8","#2ca02c","#7f7f7f","#7f7f7f","#7f7f7f","#7f7f7f","#ff7f0e"]},
     "legend":{"orient":"none","legendX":34,"legendY":82,"direction":"horizontal","columns":6,"title":null,"symbolType":"M-2,-1H2V1H-2Z","symbolSize":36,"symbolStrokeColor":"#1a1a1a","symbolStrokeWidth":0.8,"labelFontSize":6.7,"columnPadding":9,"rowPadding":-1,"labelOffset":7}}}},
    {"mark":{"type":"text","fontSize":5.5,"fontWeight":"bold","color":"#111111"},"encoding":{"text":{"field":"a"}}}
   ]
  }
  ]
 }
 ]
}
]
}
